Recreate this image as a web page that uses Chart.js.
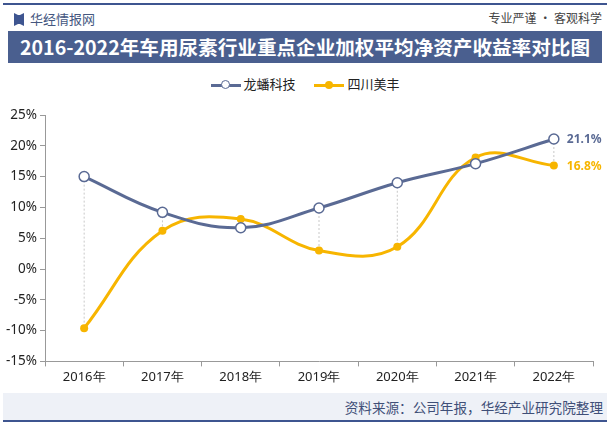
<!DOCTYPE html>
<html>
<head>
<meta charset="utf-8">
<script src="https://cdn.jsdelivr.net/npm/chart.js@4.4.0/dist/chart.umd.min.js"></script>
<style>
    body { margin: 0; background: #fff; font-family: "Noto Sans CJK SC", "Noto Sans", sans-serif; }
    #wrap { position: relative; width: 610px; height: 426px; overflow: hidden; background: #fff; }
    .topline { position: absolute; left: 3px; top: 3px; width: 604px; height: 2px; background: #3e5590; }
    .botline { position: absolute; left: 3px; top: 420px; width: 604px; height: 2px; background: #3e5590; }
    .brand { position: absolute; left: 14px; top: 9px; font-size: 13px; color: #45577f; }
    .brand i { display: inline-block; width: 10px; height: 13px; background: #3e5590; vertical-align: -2px; margin-right: 6px;
        clip-path: polygon(0 0, 40% 15%, 60% 15%, 100% 0, 100% 100%, 60% 85%, 40% 85%, 0 100%); }
    .motto { position: absolute; right: 8px; top: 9px; font-size: 12px; color: #444; }
    .title { position: absolute; left: 8px; top: 31px; width: 594px; height: 32px; background: #4a5f8f; color: #fff;
        font-size: 19.6px; font-weight: bold; line-height: 32px; text-align: center; }
    .legend { position: absolute; top: 74px; left: 0; width: 610px; text-align: center; font-size: 13px; color: #222; }
    .legend span.item { display: inline-block; margin: 0 8px; }
    .mk { display: inline-block; position: relative; width: 30px; height: 10px; vertical-align: -1px; margin-right: 3px; }
    .mk:before { content: ""; position: absolute; left: 0; right: 0; top: 4px; height: 3px; }
    .mk:after { content: ""; position: absolute; left: 10px; top: 0; width: 7px; height: 7px; border-radius: 50%; }
    .mk.a:before { background: #5a6a94; }
    .mk.a:after { background: #fff; border: 1.5px solid #5a6a94; }
    .mk.b:before { background: #f7b500; }
    .mk.b:after { background: #f7b500; left: 11px; top: 1px; width: 8px; height: 8px; }
    .foot { position: absolute; left: 3px; top: 393px; width: 604px; height: 27px; background: #eef1f7; }
    .src { position: absolute; right: 7px; top: 397px; font-size: 13.6px; color: #3f4f78; }
    #chartBox { position: absolute; left: 0; top: 100px; width: 610px; height: 292px; }
</style>
</head>
<body>
<div id="wrap">
    <div class="topline"></div>
    <div class="brand"><i></i>华经情报网</div>
    <div class="motto">专业严谨 • 客观科学</div>
    <div class="title">2016-2022年车用尿素行业重点企业加权平均净资产收益率对比图</div>
    <div class="legend">
        <span class="item"><span class="mk a"></span>龙蟠科技</span>
        <span class="item"><span class="mk b"></span>四川美丰</span>
    </div>
    <div id="chartBox"><canvas id="roeChart"></canvas></div>
    <div class="foot"></div>
    <div class="src">资料来源：公司年报，华经产业研究院整理</div>
    <div class="botline"></div>
</div>
<script>
const years = ['2016年', '2017年', '2018年', '2019年', '2020年', '2021年', '2022年'];
const longpan = [15.0, 9.2, 6.7, 9.9, 14.0, 17.1, 21.1];
const meifeng = [-9.6, 6.2, 8.1, 3.0, 3.6, 18.1, 16.8];
const yTicks = [-15, -10, -5, 0, 5, 10, 15, 20, 25];

const blue = '#5a6a94';
const gold = '#f7b500';

// dotted drop lines between the two series
const dropLines = {
    id: 'dropLines',
    beforeDatasetsDraw(chart) {
        const ctx = chart.ctx;
        const a = chart.getDatasetMeta(0).data;
        const b = chart.getDatasetMeta(1).data;
        ctx.save();
        ctx.strokeStyle = '#c8c8c8';
        ctx.lineWidth = 1;
        ctx.setLineDash([2, 2]);
        for (let i = 0; i < a.length; i++) {
            ctx.beginPath();
            ctx.moveTo(a[i].x, a[i].y);
            ctx.lineTo(b[i].x, b[i].y);
            ctx.stroke();
        }
        ctx.restore();
    }
};

// value labels at the last point
const endLabels = {
    id: 'endLabels',
    afterDatasetsDraw(chart) {
        const ctx = chart.ctx;
        ctx.save();
        ctx.font = 'bold 12px "Noto Sans", sans-serif';
        ctx.textBaseline = 'middle';
        chart.data.datasets.forEach((ds, i) => {
            const pts = chart.getDatasetMeta(i).data;
            const p = pts[pts.length - 1];
            ctx.fillStyle = ds.borderColor;
            ctx.fillText(ds.data[ds.data.length - 1].toFixed(1) + '%', p.x + 13, p.y + 1);
        });
        ctx.restore();
    }
};

new Chart(document.getElementById('roeChart'), {
    type: 'line',
    data: {
        labels: years,
        datasets: [{
            label: '龙蟠科技',
            data: longpan,
            borderColor: blue,
            backgroundColor: '#fff',
            borderWidth: 3,
            tension: 0.4,
            pointRadius: 5,
            pointBorderWidth: 1.5,
            pointBackgroundColor: '#fff',
            pointBorderColor: blue
        }, {
            label: '四川美丰',
            data: meifeng,
            borderColor: gold,
            backgroundColor: gold,
            borderWidth: 3,
            tension: 0.4,
            pointRadius: 4,
            pointBorderWidth: 0,
            pointBackgroundColor: gold
        }]
    },
    options: {
        responsive: true,
        maintainAspectRatio: false,
        animation: false,
        layout: { padding: { top: 15, right: 17, left: 3, bottom: 4 } },
        plugins: {
            legend: { display: false },
            tooltip: { enabled: false }
        },
        scales: {
            x: {
                offset: true,
                grid: { offset: true, drawOnChartArea: false, drawTicks: true, tickLength: 5, color: '#999' },
                border: { color: '#999' },
                ticks: { color: '#222', font: { size: 13, family: '"Noto Sans", sans-serif' }, padding: 3 }
            },
            y: {
                min: -15,
                max: 25,
                afterBuildTicks(axis) { axis.ticks = yTicks.map(v => ({ value: v })); },
                grid: { drawOnChartArea: false, drawTicks: true, tickLength: 5, color: '#999' },
                border: { color: '#999' },
                ticks: {
                    color: '#222',
                    font: { size: 13.5, family: '"Noto Sans", sans-serif' },
                    padding: 3,
                    callback: v => v + '%'
                }
            }
        }
    },
    plugins: [dropLines, endLabels]
});
</script>
</body>
</html>
